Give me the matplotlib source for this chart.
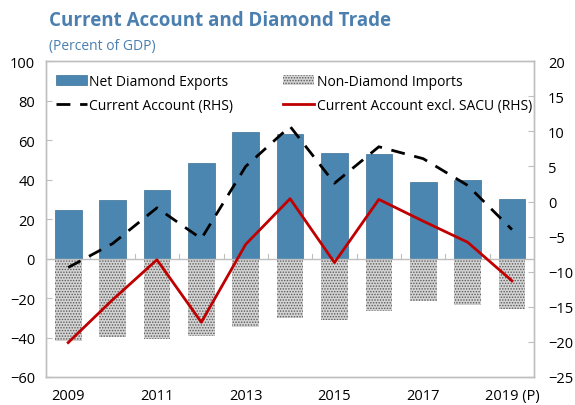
import matplotlib
matplotlib.use('Agg')
import matplotlib.pyplot as plt
import numpy as np

plt.rcParams['font.family'] = ['Open Sans', 'DejaVu Sans']
plt.rcParams['hatch.linewidth'] = 0.7

years = list(range(2009, 2020))
year_labels = ['2009', '', '2011', '', '2013', '', '2015', '', '2017', '', '2019 (P)']

net_diamond_exports = [24.4, 29.4, 34.5, 48.2, 64.0, 63.0, 53.3, 52.8, 39.0, 40.0, 30.0]
non_diamond_imports = [-42.0, -39.6, -41.0, -39.0, -34.5, -30.0, -31.0, -26.4, -21.3, -23.4, -25.4]
current_account = [-9.4, -6.0, -0.9, -5.3, 5.0, 10.7, 2.6, 7.8, 6.1, 2.3, -4.0]
ca_excl_sacu = [-20.1, -14.0, -8.3, -17.2, -6.1, 0.4, -8.7, 0.3, -2.8, -5.8, -11.3]

fig = plt.figure(figsize=(5.75, 4.06), dpi=100)
ax = fig.add_axes([0.08, 0.069, 0.849, 0.778])
x = np.arange(len(years))

b1 = ax.bar(x, net_diamond_exports, width=0.6, color='#4a86b0', edgecolor='#3a6f96', linewidth=0.5,
            label='Net Diamond Exports', zorder=2)
b2 = ax.bar(x, non_diamond_imports, width=0.6, color='#d4d4d4', edgecolor='#5a5a5a', hatch='......',
            linewidth=0, label='Non-Diamond Imports', zorder=2)
ax.axhline(0, color='#bfbfbf', linewidth=1, zorder=3)
# small ticks on the zero line between categories
for xm in x[:-1] + 0.5:
    ax.plot([xm, xm], [0, 2.5], color='#bfbfbf', linewidth=0.8, zorder=3)

ax.set_ylim(-60, 100)
ax.set_yticks(range(-60, 101, 20))
ax.set_xlim(-0.5, len(years) - 0.5)
ax.set_xticks(x)
ax.set_xticklabels(year_labels)
ax.tick_params(axis='x', length=0, labelsize=10.5, pad=8)
ax.tick_params(axis='y', direction='in', length=4, color='#bfbfbf', labelsize=10.5, pad=8)

ax2 = ax.twinx()
l1, = ax2.plot(x, current_account, color='black', linestyle=(0, (5, 3.5)), linewidth=2,
               label='Current Account (RHS)', zorder=4)
l2, = ax2.plot(x, ca_excl_sacu, color='#c00000', linewidth=2,
               label='Current Account excl. SACU (RHS)', zorder=4)
ax2.set_ylim(-25, 20)
ax2.set_yticks(range(-25, 21, 5))
ax2.tick_params(axis='y', direction='in', length=4, color='#bfbfbf', labelsize=10.5, pad=10)

for a in (ax, ax2):
    for s in a.spines.values():
        s.set_color('#bfbfbf')
        s.set_linewidth(1)

ax2.legend([b1, l1, b2, l2],
           ['Net Diamond Exports', 'Current Account (RHS)', 'Non-Diamond Imports',
            'Current Account excl. SACU (RHS)'],
           loc='upper left', bbox_to_anchor=(-0.005, 1.0), ncol=2, frameon=False,
           fontsize=10, handlelength=2.2, handletextpad=0.2, columnspacing=3.6,
           labelspacing=0.7)

fig.text(0.085, 0.935, 'Current Account and Diamond Trade', color='#4a7fb0',
         fontsize=13.5, fontweight='bold')
fig.text(0.085, 0.877, '(Percent of GDP)', color='#4a7fb0', fontsize=10)

fig.savefig('out.png', dpi=100)
